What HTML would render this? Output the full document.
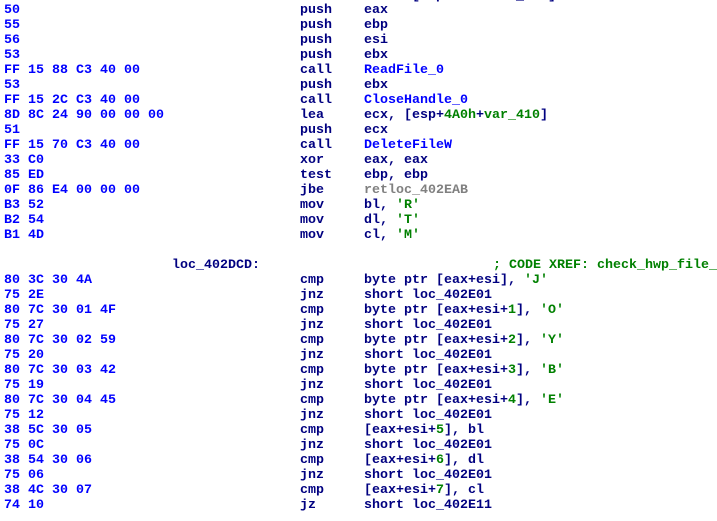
<!DOCTYPE html>
<html><head><meta charset="utf-8"><style>
html,body{margin:0;padding:0;background:#fff;width:717px;height:521px;overflow:hidden}
body{position:relative;font-family:"Liberation Mono","DejaVu Sans Mono",monospace;font-size:13.33px;font-weight:bold}
.r{position:absolute;left:0;width:717px;height:15px;line-height:15px;white-space:pre;margin-top:1px}
.r span{position:absolute;top:0}
.b{left:4px;color:#0000ff}
.m{left:300px;color:#000080}
.o{left:364px;color:#000080}
.l{left:172px;color:#000080}
.c{left:493px;color:#008000}
.g{color:#008000}
.f{color:#0000ff}
.x{color:#808080}
</style></head><body>
<div class="r" style="top:-12px"><span style="left:412px;color:#000080">[esp+<i class="g" style="font-style:normal">4A0h</i>+var_<i class="g" style="font-style:normal">410</i>]</span></div>
<div class="r" style="top:2px"><span class="b">50</span><span class="m">push</span><span class="o">eax</span></div>
<div class="r" style="top:17px"><span class="b">55</span><span class="m">push</span><span class="o">ebp</span></div>
<div class="r" style="top:32px"><span class="b">56</span><span class="m">push</span><span class="o">esi</span></div>
<div class="r" style="top:47px"><span class="b">53</span><span class="m">push</span><span class="o">ebx</span></div>
<div class="r" style="top:62px"><span class="b">FF 15 88 C3 40 00</span><span class="m">call</span><span class="o f">ReadFile_0</span></div>
<div class="r" style="top:77px"><span class="b">53</span><span class="m">push</span><span class="o">ebx</span></div>
<div class="r" style="top:92px"><span class="b">FF 15 2C C3 40 00</span><span class="m">call</span><span class="o f">CloseHandle_0</span></div>
<div class="r" style="top:107px"><span class="b">8D 8C 24 90 00 00 00</span><span class="m">lea</span><span class="o">ecx, [esp+<b class="g">4A0h</b>+<b class="g">var_410</b>]</span></div>
<div class="r" style="top:122px"><span class="b">51</span><span class="m">push</span><span class="o">ecx</span></div>
<div class="r" style="top:137px"><span class="b">FF 15 70 C3 40 00</span><span class="m">call</span><span class="o f">DeleteFileW</span></div>
<div class="r" style="top:152px"><span class="b">33 C0</span><span class="m">xor</span><span class="o">eax, eax</span></div>
<div class="r" style="top:167px"><span class="b">85 ED</span><span class="m">test</span><span class="o">ebp, ebp</span></div>
<div class="r" style="top:182px"><span class="b">0F 86 E4 00 00 00</span><span class="m">jbe</span><span class="o x">retloc_402EAB</span></div>
<div class="r" style="top:197px"><span class="b">B3 52</span><span class="m">mov</span><span class="o">bl, <b class="g">'R'</b></span></div>
<div class="r" style="top:212px"><span class="b">B2 54</span><span class="m">mov</span><span class="o">dl, <b class="g">'T'</b></span></div>
<div class="r" style="top:227px"><span class="b">B1 4D</span><span class="m">mov</span><span class="o">cl, <b class="g">'M'</b></span></div>
<div class="r" style="top:257px"><span class="l">loc_402DCD:</span><span class="c">; CODE XREF: check_hwp_file_</span></div>
<div class="r" style="top:272px"><span class="b">80 3C 30 4A</span><span class="m">cmp</span><span class="o">byte ptr [eax+esi], <b class="g">'J'</b></span></div>
<div class="r" style="top:287px"><span class="b">75 2E</span><span class="m">jnz</span><span class="o">short loc_402E01</span></div>
<div class="r" style="top:302px"><span class="b">80 7C 30 01 4F</span><span class="m">cmp</span><span class="o">byte ptr [eax+esi+<b class="g">1</b>], <b class="g">'O'</b></span></div>
<div class="r" style="top:317px"><span class="b">75 27</span><span class="m">jnz</span><span class="o">short loc_402E01</span></div>
<div class="r" style="top:332px"><span class="b">80 7C 30 02 59</span><span class="m">cmp</span><span class="o">byte ptr [eax+esi+<b class="g">2</b>], <b class="g">'Y'</b></span></div>
<div class="r" style="top:347px"><span class="b">75 20</span><span class="m">jnz</span><span class="o">short loc_402E01</span></div>
<div class="r" style="top:362px"><span class="b">80 7C 30 03 42</span><span class="m">cmp</span><span class="o">byte ptr [eax+esi+<b class="g">3</b>], <b class="g">'B'</b></span></div>
<div class="r" style="top:377px"><span class="b">75 19</span><span class="m">jnz</span><span class="o">short loc_402E01</span></div>
<div class="r" style="top:392px"><span class="b">80 7C 30 04 45</span><span class="m">cmp</span><span class="o">byte ptr [eax+esi+<b class="g">4</b>], <b class="g">'E'</b></span></div>
<div class="r" style="top:407px"><span class="b">75 12</span><span class="m">jnz</span><span class="o">short loc_402E01</span></div>
<div class="r" style="top:422px"><span class="b">38 5C 30 05</span><span class="m">cmp</span><span class="o">[eax+esi+<b class="g">5</b>], bl</span></div>
<div class="r" style="top:437px"><span class="b">75 0C</span><span class="m">jnz</span><span class="o">short loc_402E01</span></div>
<div class="r" style="top:452px"><span class="b">38 54 30 06</span><span class="m">cmp</span><span class="o">[eax+esi+<b class="g">6</b>], dl</span></div>
<div class="r" style="top:467px"><span class="b">75 06</span><span class="m">jnz</span><span class="o">short loc_402E01</span></div>
<div class="r" style="top:482px"><span class="b">38 4C 30 07</span><span class="m">cmp</span><span class="o">[eax+esi+<b class="g">7</b>], cl</span></div>
<div class="r" style="top:497px"><span class="b">74 10</span><span class="m">jz</span><span class="o">short loc_402E11</span></div>
</body></html>
